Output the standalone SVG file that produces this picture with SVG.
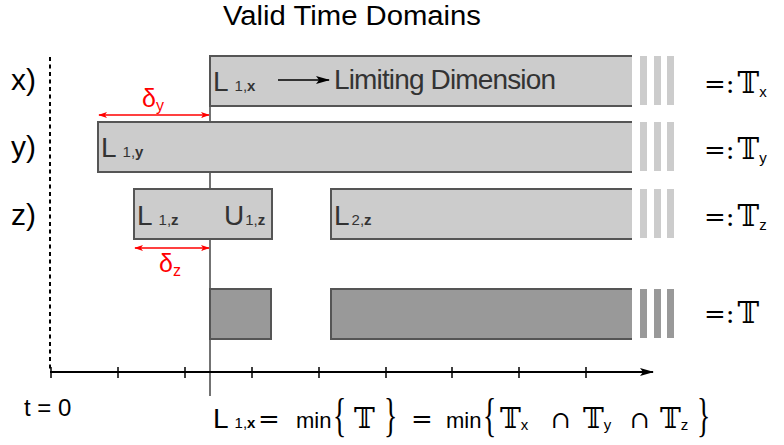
<svg xmlns="http://www.w3.org/2000/svg" width="784" height="445" viewBox="0 0 784 445">
<defs>
<marker id="ahBig" viewBox="0 0 14 10" refX="13" refY="5" markerWidth="14" markerHeight="10" markerUnits="userSpaceOnUse" orient="auto"><path d="M0,1 L14,5 L0,9 L3,5 z" fill="#000"/></marker>
<marker id="ahR" viewBox="0 0 10 10" refX="9" refY="5" markerWidth="9" markerHeight="9" markerUnits="userSpaceOnUse" orient="auto-start-reverse"><path d="M0,1.5 L10,5 L0,8.5 L2.5,5 z" fill="#f00"/></marker>
<style>
.lt{fill:#cccccc}
.dk{fill:#999999}
.bd{fill:none;stroke:#555;stroke-width:2}
.sans{font-family:"Liberation Sans",Arial,sans-serif}
.lab{font-family:"Liberation Sans",Arial,sans-serif;font-size:30px;fill:#000}
.bl{font-family:"Liberation Sans",Arial,sans-serif;font-size:28px;fill:#333}
.sub{font-size:15px}
.bb{font-weight:bold}
.dbl{font-family:"DejaVu Serif","DejaVu Sans",serif}
.br{font-family:"Liberation Serif","Times New Roman",serif;font-size:46px}
.red{fill:#f00;font-family:"Liberation Sans",Arial,sans-serif}
.rl{stroke:#f00;stroke-width:1.3;fill:none}
</style>
</defs>
<rect width="784" height="445" fill="#fff"/>
<text x="352" y="25" text-anchor="middle" class="sans" font-size="27" textLength="258" lengthAdjust="spacingAndGlyphs">Valid Time Domains</text>

<g id="axes">
<line x1="50" y1="57" x2="50" y2="372" stroke="#000" stroke-width="2" stroke-dasharray="4 3.5"/>
<line x1="210" y1="56" x2="210" y2="396" stroke="#444" stroke-width="1.5"/>
<line x1="50" y1="372" x2="653" y2="372" stroke="#000" stroke-width="2" marker-end="url(#ahBig)"/>
<path d="M51,367V378 M118,367V378 M185,367V378 M252,367V378 M319,367V378 M386,367V378 M452,367V378 M519,367V378 M586,367V378" stroke="#000" stroke-width="1.5"/>
</g>

<g id="row-x">
<text x="11" y="90" class="lab">x)</text>
<rect class="lt" x="210" y="56" width="422" height="50"/>
<path class="bd" d="M632,56H210V106H632"/>
<g class="lt"><rect x="640" y="56" width="7" height="49"/><rect x="654" y="56" width="7" height="49"/><rect x="667" y="56" width="7" height="49"/></g>
<text x="213" y="91" class="bl">L<tspan class="sub" dx="6">1,</tspan><tspan class="sub bb">x</tspan></text>
<line x1="278" y1="80" x2="329" y2="80" stroke="#000" stroke-width="1.5" marker-end="url(#ahBig)"/>
<text x="334" y="89" class="bl" font-size="26" textLength="222">Limiting Dimension</text>
<text x="704" y="93" class="dbl" font-size="26">=:<tspan dx="3" font-size="29">𝕋</tspan><tspan class="sans" font-size="15" dy="4">x</tspan></text>
</g>

<g id="row-y">
<text x="11" y="157" class="lab">y)</text>
<rect class="lt" x="98" y="122" width="534" height="50"/>
<path class="bd" d="M632,122H98V172H632"/>
<g class="lt"><rect x="640" y="122" width="7" height="49"/><rect x="654" y="122" width="7" height="49"/><rect x="667" y="122" width="7" height="49"/></g>
<text x="101" y="157" class="bl">L<tspan class="sub" dx="6">1,</tspan><tspan class="sub bb">y</tspan></text>
<text x="704" y="159" class="dbl" font-size="26">=:<tspan dx="3" font-size="29">𝕋</tspan><tspan class="sans" font-size="15" dy="4">y</tspan></text>
</g>

<g id="row-z">
<text x="11" y="225" class="lab">z)</text>
<rect class="lt" x="134" y="189" width="138" height="50" stroke="#555" stroke-width="2"/>
<rect class="lt" x="331" y="189" width="301" height="50"/>
<path class="bd" d="M632,189H331V239H632"/>
<g class="lt"><rect x="640" y="189" width="7" height="49"/><rect x="654" y="189" width="7" height="49"/><rect x="667" y="189" width="7" height="49"/></g>
<text x="137" y="225" class="bl">L<tspan class="sub" dx="6">1,</tspan><tspan class="sub bb">z</tspan></text>
<text x="224" y="225" class="bl">U<tspan class="sub" dx="1">1,</tspan><tspan class="sub bb">z</tspan></text>
<text x="334" y="225" class="bl">L<tspan class="sub" dx="2">2,</tspan><tspan class="sub bb">z</tspan></text>
<text x="704" y="226" class="dbl" font-size="26">=:<tspan dx="3" font-size="29">𝕋</tspan><tspan class="sans" font-size="15" dy="4">z</tspan></text>
</g>

<g id="row-T">
<rect class="dk" x="210" y="289" width="61" height="50" stroke="#555" stroke-width="2"/>
<rect class="dk" x="331" y="289" width="301" height="50"/>
<path class="bd" d="M632,289H331V339H632"/>
<g class="dk"><rect x="640" y="289" width="7" height="49"/><rect x="654" y="289" width="7" height="49"/><rect x="667" y="289" width="7" height="49"/></g>
<text x="704" y="323" class="dbl" font-size="26">=:<tspan dx="3" font-size="29">𝕋</tspan></text>
</g>

<g id="deltas">
<line class="rl" x1="99" y1="115" x2="209" y2="115" marker-start="url(#ahR)" marker-end="url(#ahR)"/>
<text x="142" y="107" class="red" font-size="25">δ<tspan font-size="16" dy="4">y</tspan></text>
<line class="rl" x1="135" y1="248" x2="209" y2="248" marker-start="url(#ahR)" marker-end="url(#ahR)"/>
<text x="159" y="272" class="red" font-size="25">δ<tspan font-size="16" dy="4">z</tspan></text>
</g>

<g id="labels-bottom">
<text x="24" y="416" class="sans" font-size="24">t = 0</text>
<text x="213" y="428" class="sans" font-size="28" fill="#000">L<tspan font-size="15" dx="6">1,</tspan><tspan font-size="15" font-weight="bold">x</tspan></text>
<text x="258" y="428" class="dbl" font-size="26">=</text>
<text x="296" y="428" class="sans" font-size="22">min</text>
<text class="br" transform="translate(333,431) scale(0.6,1)">{</text>
<text x="354" y="428" class="dbl" font-size="28">𝕋</text>
<text class="br" transform="translate(384,431) scale(0.6,1)">}</text>
<text x="411" y="428" class="dbl" font-size="26">=</text>
<text x="446" y="428" class="sans" font-size="22">min</text>
<text class="br" transform="translate(483,431) scale(0.6,1)">{</text>
<text x="500" y="428" class="dbl" font-size="28">𝕋<tspan class="sans" font-size="15" dy="2">x</tspan></text>
<text x="551" y="428" class="dbl" font-size="24">∩</text>
<text x="583" y="428" class="dbl" font-size="28">𝕋<tspan class="sans" font-size="15" dy="2">y</tspan></text>
<text x="630" y="428" class="dbl" font-size="24">∩</text>
<text x="660" y="428" class="dbl" font-size="28">𝕋<tspan class="sans" font-size="15" dy="2">z</tspan></text>
<text class="br" transform="translate(697,431) scale(0.6,1)">}</text>
</g>
</svg>
